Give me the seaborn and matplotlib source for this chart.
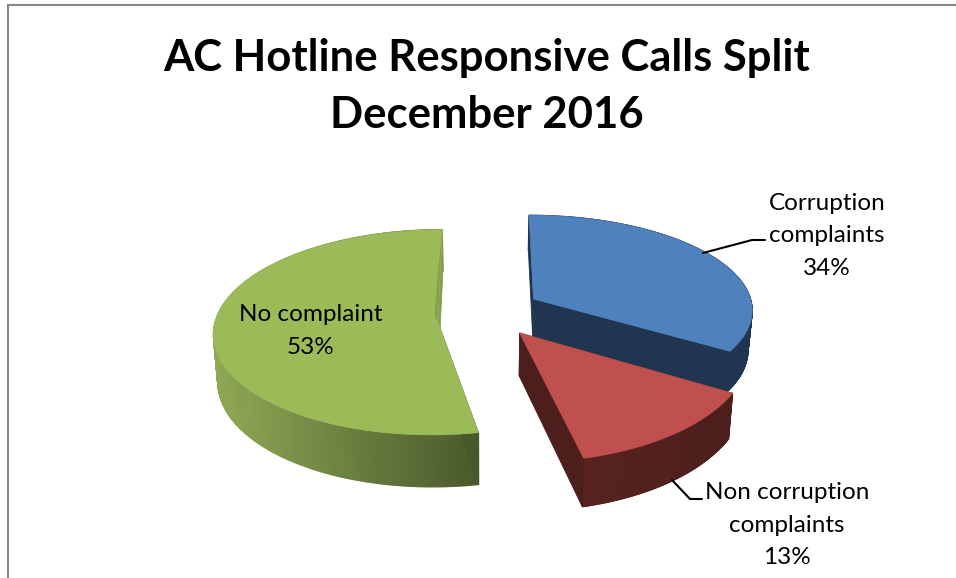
import numpy as np
import matplotlib
matplotlib.use("Agg")
import matplotlib.pyplot as plt
import seaborn as sns
from matplotlib.patches import Polygon

categories = ["Corruption\ncomplaints", "Non corruption\ncomplaints", "No complaint"]
values = [34, 13, 53]
title_lines = ["AC Hotline Responsive Calls Split", "December 2016"]

top_colors = ["#4F81BD", "#C0504D", "#9BBB59"]
side_colors = [["#1F3550", "#1F3550"], ["#56231F", "#4C1F1D"], ["#8FA955", "#49582B"]]
sliver_color = "#83A04F"

# projection of the tilted pie, in pixels
XC, YC, R, A, P, SHRINK = 485, 315, 224, 92.6, 0.1, 0.984
OFFSET = [(0.2206, 0.176), (0.152, -0.1907), (-0.2105, -0.0657)]
RX = [0.985, 1.0, 0.985]
RY = [1.03, 1.18, 1.08]
TURN = [0, 2.5, 0]
DEPTH = [40, 42, 46]

sns.set_theme(style="white")
plt.rcParams["font.family"] = ["Lato", "DejaVu Sans"]

fig = plt.figure(figsize=(9.56, 5.78), dpi=100)
ax = fig.add_axes([0, 0, 1, 1])
ax.set_xlim(0, 956)
ax.set_ylim(578, 0)
ax.axis("off")


def project_world(X, Y):
    w = 1 + P * Y
    return XC + R * X / w, YC - A * Y / w, w


def project(i, ang):
    X = OFFSET[i][0] + RX[i] * np.cos(ang)
    Y = OFFSET[i][1] + RY[i] * np.sin(ang)
    return project_world(X, Y)


def lower(i, x, y, w):
    return XC + (x - XC) * SHRINK, y + DEPTH[i] / w


ends = np.cumsum(values) / sum(values) * 2 * np.pi
starts = np.r_[0, ends[:-1]]

for i in [2, 0, 1]:
    angles = np.pi / 2 - np.linspace(starts[i], ends[i], 240) + np.deg2rad(TURN[i])
    top = [project(i, a) for a in angles]
    apex = project_world(*OFFSET[i])
    low = [lower(i, *p) for p in top]
    low_apex = lower(i, *apex)
    xs = [p[0] for p in top]
    pal = sns.blend_palette(side_colors[i], 128)

    # outer wall, shaded along the screen, drawn from back to front so the strips blend
    order = np.argsort([p[1] for p in top[:-1]])
    for j in order:
        t = ((top[j][0] + top[j + 1][0]) / 2 - min(xs)) / (max(xs) - min(xs))
        c = pal[int(t * 127)]
        quad = [top[j][:2], top[j + 1][:2], low[j + 1], low[j]]
        ax.add_patch(Polygon(quad, closed=True, fc=c, ec=c, lw=1.0))

    # cut walls
    for k, c_wall in [(0, side_colors[i][-1]), (-1, side_colors[i][-1] if i < 2 else sliver_color)]:
        quad = [apex[:2], top[k][:2], low[k], low_apex]
        ax.add_patch(Polygon(quad, closed=True, fc=c_wall, ec=c_wall, lw=0.6))

    face = [apex[:2]] + [p[:2] for p in top]
    ax.add_patch(Polygon(face, closed=True, fc=top_colors[i], ec=top_colors[i], lw=0.6))

    # sliver of the cut wall seen on the big slice
    if i == 2:
        rim, mid = top[-1], apex
        sliver = [rim[:2], mid[:2], (mid[0] - 3, mid[1] - 6), (rim[0] - 4, rim[1] + 41)]
        ax.add_patch(Polygon(sliver, closed=True, fc=sliver_color, ec="none"))

# frame
ax.plot([8, 8, 956], [578, 5, 5], color="#868686", lw=1.5, solid_joinstyle="miter", clip_on=False)

# leaders
ax.plot([703, 752, 765], [253, 240, 240], color="black", lw=1.5)
ax.plot([672, 690, 702], [480, 499, 499], color="black", lw=1.5)

for line, y in zip(title_lines, [58, 115]):
    ax.text(487, y, line, fontsize=31.4, fontweight="bold", color="black", ha="center", va="center")

label_pos = [(827, 236), (787, 525), (311, 331)]
for cat, val, (x, y) in zip(categories, values, label_pos):
    ax.text(x, y, "{0}\n{1}%".format(cat, val), fontsize=17.5, color="black", ha="center", va="center",
            multialignment="center", linespacing=1.65)

fig.savefig("out.png", dpi=100)
